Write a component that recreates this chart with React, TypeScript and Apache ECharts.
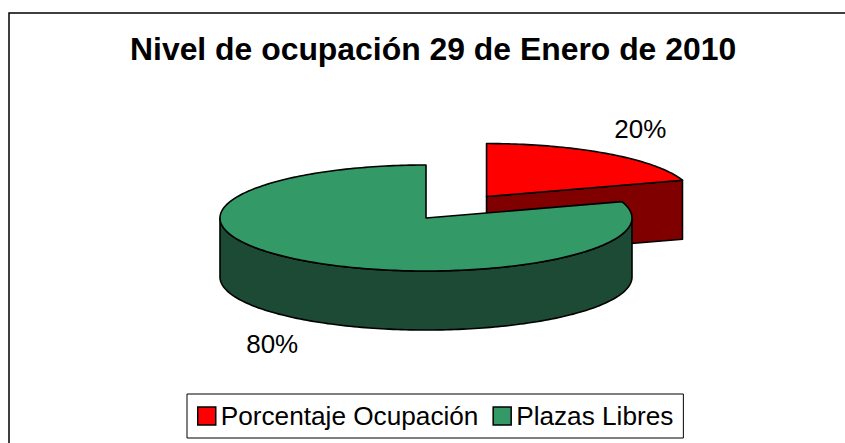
import React, { useEffect, useRef } from "react";
import * as echarts from "echarts";

// ---- data ----
const titleText = "Nivel de ocupación 29 de Enero de 2010";
const categories = ["Porcentaje Ocupación", "Plazas Libres"];
const values = [20, 80];

// ---- styles ----
const topColors = ["#FF0000", "#339966"];
const wallColors = ["#800000", "#1D4A34"];
const FONT = "'Liberation Sans', Arial, sans-serif";

// ---- layout ----
const CX = 426;
const CY = 218;
const RX = 206;
const RY = 53;
const DEPTH = 59;
const EXPLODED_INDEX = 0;
const EXPLODE_K = 0.5;
const LABEL_K = 1.27;

export default function App() {
  const ref = useRef<HTMLDivElement>(null);

  useEffect(() => {
    if (!ref.current) return;
    const chart = echarts.init(ref.current, null, { renderer: "svg" });
    const total = values.reduce((a, b) => a + b, 0);

    const renderItem = (params: any) => {
      const si = params.seriesIndex;
      let before = 0;
      for (let i = 0; i < si; i++) before += values[i];
      const a0 = (before / total) * Math.PI * 2;
      const a1 = ((before + values[si]) / total) * Math.PI * 2;
      const mid = (a0 + a1) / 2;
      const k = si === EXPLODED_INDEX ? EXPLODE_K : 0;
      const cx = CX + RX * k * Math.sin(mid);
      const cy = CY - RY * k * Math.cos(mid);
      const pt = (a: number, dz: number) => [cx + RX * Math.sin(a), cy - RY * Math.cos(a) + dz];
      const arc = (s: number, e: number, dz: number) => {
        const n = Math.max(2, Math.ceil(Math.abs(e - s) / 0.02));
        const pts: number[][] = [];
        for (let i = 0; i <= n; i++) pts.push(pt(s + ((e - s) * i) / n, dz));
        return pts;
      };
      const stroke = { stroke: "#000", lineWidth: 1.6, lineJoin: "round" };
      const children: any[] = [];
      // radial faces
      if (Math.cos(a1 + Math.PI / 2) < -1e-6) {
        children.push({
          type: "polygon",
          shape: { points: [[cx, cy], pt(a1, 0), pt(a1, DEPTH), [cx, cy + DEPTH]] },
          style: { fill: wallColors[si], ...stroke },
        });
      }
      if (Math.cos(a0 - Math.PI / 2) < -1e-6) {
        children.push({
          type: "polygon",
          shape: { points: [[cx, cy], pt(a0, 0), pt(a0, DEPTH), [cx, cy + DEPTH]] },
          style: { fill: wallColors[si], ...stroke },
        });
      }
      // outer wall (front half)
      const ranges = [
        [Math.PI / 2, (3 * Math.PI) / 2],
        [(5 * Math.PI) / 2, (7 * Math.PI) / 2],
      ];
      ranges.forEach(([r0, r1]) => {
        const s = Math.max(a0, r0);
        const e = Math.min(a1, r1);
        if (e > s) {
          const top = arc(s, e, 0);
          const bottom = arc(s, e, DEPTH).reverse();
          children.push({
            type: "polygon",
            shape: { points: top.concat(bottom) },
            style: { fill: wallColors[si], ...stroke },
          });
        }
      });
      // top face
      children.push({
        type: "polygon",
        shape: { points: [[cx, cy]].concat(arc(a0, a1, 0)) },
        style: { fill: topColors[si], ...stroke },
      });
      // label
      const c = Math.cos(mid);
      const lx = cx + RX * LABEL_K * Math.sin(mid);
      const ly = cy - RY * LABEL_K * c + (c < 0 ? DEPTH : 0);
      children.push({
        type: "text",
        style: {
          text: Math.round((values[si] / total) * 100) + "%",
          x: lx,
          y: ly,
          fill: "#000",
          fontSize: 26,
          fontFamily: FONT,
          align: "center",
          verticalAlign: c >= 0 ? "bottom" : "top",
        },
      });
      return { type: "group", children };
    };

    chart.setOption({
      animation: false,
      backgroundColor: "#fff",
      title: {
        text: titleText,
        left: 130,
        top: 33,
        padding: 0,
        textStyle: {
          fontSize: 31.9,
          fontWeight: "bold",
          fontFamily: FONT,
          color: "#000",
        },
      },
      legend: {
        data: categories,
        left: 187,
        top: 394,
        orient: "horizontal",
        padding: [9, 10, 9, 10],
        itemWidth: 18,
        itemHeight: 18,
        itemGap: 14,
        icon: "rect",
        borderColor: "#000",
        borderWidth: 1,
        itemStyle: { borderColor: "#000", borderWidth: 1.5 },
        textStyle: { fontSize: 26.2, lineHeight: 26, fontFamily: FONT, color: "#000" },
      },
      graphic: [
        {
          type: "rect",
          shape: { x: 9, y: 13, width: 900, height: 500 },
          style: { fill: "none", stroke: "#000", lineWidth: 1.5 },
          silent: true,
          z: -1,
        },
      ],
      series: categories.map((name, i) => ({
        type: "custom",
        name,
        coordinateSystem: "none",
        renderItem,
        itemStyle: { color: topColors[i], borderColor: "#000", borderWidth: 1 },
        data: [[values[i]]],
        z: 2 + i,
      })),
    });

    return () => chart.dispose();
  }, []);

  return (
    <div
      ref={ref}
      style={{ position: "fixed", left: 0, top: 0, width: 845, height: 443 }}
    />
  );
}
